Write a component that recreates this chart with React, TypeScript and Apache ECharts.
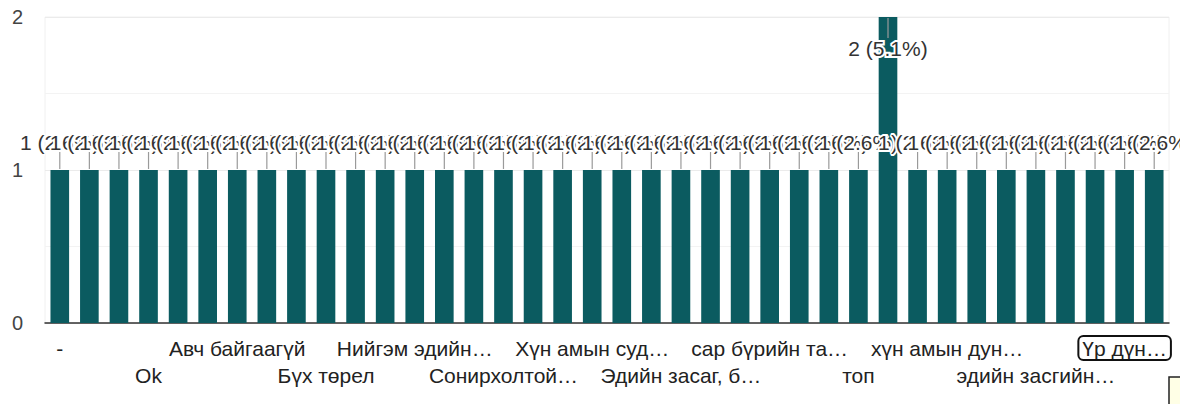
import React, { useEffect, useRef } from "react";
import * as echarts from "echarts";

const categories: string[] = [
  "-",
  "2020 оны тооллого",
  "Facebook",
  "Ok",
  "Startup",
  "news",
  "Авч байгаагүй",
  "Ажил эрхлэлт",
  "Байхгүй",
  "Бүх төрел",
  "Гэр бүл",
  "Мэдэхгүй",
  "Нийгэм эдийн засгийн байдал",
  "Орон сууц",
  "Санхүү",
  "Сонирхолтой мэдээлэл",
  "Статистик",
  "Тийм",
  "Хүн амын судалгаа",
  "Хөдөлмөр",
  "Шинэ мэдээ",
  "Эдийн засаг, бизнес",
  "Эрүүл мэнд",
  "бүгд",
  "сар бүрийн тайлан",
  "спорт",
  "статистик мэдээ",
  "топ",
  "хүн ам",
  "хүн амын бүтэц",
  "хүн амын дундаж наслалт",
  "хүүхэд",
  "эдийн засаг",
  "эдийн засгийн өсөлт",
  "эрүүл мэнд",
  "ядуурал",
  "Үр дүнгийн үзүүлэлт",
  "өрхийн орлого",
];

const counts: number[] = [
  1, 1, 1, 1, 1, 1, 1, 1, 1, 1, 1, 1, 1, 1, 1, 1, 1, 1, 1, 1,
  1, 1, 1, 1, 1, 1, 1, 1, 2, 1, 1, 1, 1, 1, 1, 1, 1, 1,
];

const yTicks: number[] = [0, 1, 2];

const FONT = '"Liberation Sans", Arial, sans-serif';
const FS = 21;
const BAR = "#0b5b60";
const FOCUS_INDEX = 36;
const LABEL_STEP = 3;

let measureCtx: CanvasRenderingContext2D | null = null;
function textWidth(s: string): number {
  if (!measureCtx) {
    const c = document.createElement("canvas");
    measureCtx = c.getContext("2d");
  }
  if (!measureCtx) return s.length * FS * 0.55;
  measureCtx.font = `${FS}px ${FONT}`;
  return measureCtx.measureText(s).width;
}
function truncate(s: string, maxW: number): string {
  if (textWidth(s) <= maxW) return s;
  let t = s;
  while (t.length > 0 && textWidth(t + "…") > maxW) t = t.slice(0, -1);
  return t.replace(/\s+$/, "") + "…";
}
function labelText(index: number): string {
  return truncate(categories[index], index === FOCUS_INDEX ? 90 : 162);
}

export default function App() {
  const ref = useRef<HTMLDivElement>(null);
  useEffect(() => {
    if (!ref.current) return;
    const chart = echarts.init(ref.current, null, { renderer: "svg" });
    const total = counts.reduce((a, b) => a + b, 0);
    const maxV = yTicks[yTicks.length - 1];
    const lastIdx = categories.length - 1;
    const AXIS_MARGIN = 12;
    const LINE_H = 27;
    chart.setOption({
      animation: false,
      grid: {
        left: 45,
        right: 11,
        top: 17,
        bottom: 81,
        show: true,
        borderColor: "#f0f0f0",
        borderWidth: 1,
      },
      xAxis: {
        type: "category",
        data: categories,
        axisLine: { show: true, lineStyle: { color: "#333", width: 1.5 } },
        axisTick: { show: false },
        axisLabel: {
          interval: (index: number) => index % LABEL_STEP === 0 || index === lastIdx,
          margin: AXIS_MARGIN,
          color: "#222",
          fontFamily: FONT,
          fontSize: FS,
          lineHeight: LINE_H,
          formatter: (value: string, index: number) => {
            if (index % LABEL_STEP !== 0) return "";
            const t = labelText(index);
            const row2 = (index / LABEL_STEP) % 2 === 1;
            return (row2 ? "\n" : "") + t;
          },
        },
      },
      yAxis: {
        type: "value",
        min: yTicks[0],
        max: maxV,
        interval: 1,
        axisLine: { show: false },
        axisTick: { show: false },
        axisLabel: {
          margin: 22,
          color: "#444",
          fontFamily: FONT,
          fontSize: 20,
        },
        splitLine: { show: true, lineStyle: { color: "#ebebeb", width: 1 } },
        minorTick: { show: false, splitNumber: 2 },
        minorSplitLine: { show: true, lineStyle: { color: "#f3f3f3", width: 1 } },
      },
      series: [
        {
          type: "bar",
          data: counts,
          barWidth: "63%",
          itemStyle: { color: BAR },
          z: 2,
        },
        {
          type: "custom",
          z: 5,
          data: counts.map((v, i) => [i, v]),
          renderItem: (params: any, api: any) => {
            const idx = api.value(0);
            const v = api.value(1);
            const p = api.coord([idx, v]);
            const pct = ((v / total) * 100).toFixed(1);
            const label = `${v} (${pct}%)`;
            const inside = v >= maxV;
            const y1 = inside ? p[1] + 1 : p[1] - 1;
            const y2 = inside ? p[1] + 21 : p[1] - 21;
            const ty = inside ? p[1] + 31 : p[1] - 28;
            return {
              type: "group",
              children: [
                {
                  type: "line",
                  shape: { x1: p[0], y1, x2: p[0], y2 },
                  style: { stroke: "#9a9a9a", lineWidth: 1.2 },
                },
                {
                  type: "text",
                  x: p[0],
                  y: ty,
                  style: {
                    text: label,
                    fill: "#333",
                    font: `${FS}px ${FONT}`,
                    align: "center",
                    verticalAlign: "middle",
                    stroke: "#fff",
                    lineWidth: 4,
                  },
                },
              ],
            };
          },
        },
      ],
    });

    // focus outline around the highlighted axis label, placed from the axis scale
    const fx = chart.convertToPixel({ xAxisIndex: 0 }, categories[FOCUS_INDEX]) as number;
    const fy = chart.convertToPixel({ yAxisIndex: 0 }, yTicks[0]) as number;
    const fw = textWidth(labelText(FOCUS_INDEX)) + 8;
    chart.setOption({
      graphic: [
        {
          type: "rect",
          x: fx - fw / 2,
          y: fy + AXIS_MARGIN + 1,
          shape: { width: fw, height: 24, r: 5 },
          style: { fill: "none", stroke: "#111", lineWidth: 2 },
          z: 10,
        },
        {
          type: "rect",
          x: 1169,
          y: 377,
          shape: { width: 20, height: 40 },
          style: { fill: "#ffffe6", stroke: "#222", lineWidth: 1.5 },
        },
      ],
    });
    return () => chart.dispose();
  }, []);
  return (
    <div
      ref={ref}
      style={{ position: "fixed", left: 0, top: 0, width: 1180, height: 404, background: "#fff" }}
    />
  );
}
